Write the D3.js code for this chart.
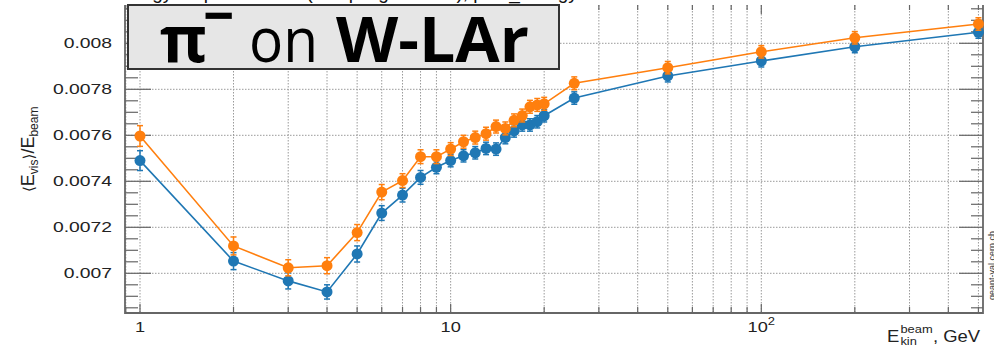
<!DOCTYPE html>
<html>
<head>
<meta charset="utf-8">
<script src="https://cdn.jsdelivr.net/npm/d3@7"></script>
<style>
  body { margin: 0; background: #fff; }
  svg { display: block; }
</style>
</head>
<body>
<svg id="chart" width="994" height="347"></svg>
<script>

var energies = [1, 2, 3, 4, 5, 6, 7, 8, 9, 10, 11, 12, 13, 14, 15, 16, 17, 18, 19, 20, 25, 50, 100, 200, 500];

var blueValues = [0.007490, 0.007053, 0.006967, 0.006919, 0.007084, 0.007262, 0.007340, 0.007417, 0.007461,
                  0.007490, 0.007511, 0.007524, 0.007543, 0.007540, 0.007590, 0.007619, 0.007645, 0.007645,
                  0.007659, 0.007685, 0.007762, 0.007858, 0.007923, 0.007985, 0.008048];
var blueErrors = [0.000043, 0.000037, 0.000035, 0.000031, 0.000035, 0.000032, 0.000030, 0.000030, 0.000028,
                  0.000027, 0.000027, 0.000027, 0.000027, 0.000027, 0.000027, 0.000027, 0.000027, 0.000027,
                  0.000027, 0.000027, 0.000027, 0.000026, 0.000026, 0.000026, 0.000026];

var orangeValues = [0.007597, 0.007119, 0.007024, 0.007033, 0.007177, 0.007353, 0.007403, 0.007507, 0.007507,
                    0.007540, 0.007572, 0.007590, 0.007607, 0.007638, 0.007630, 0.007665, 0.007686, 0.007724,
                    0.007732, 0.007737, 0.007826, 0.007894, 0.007963, 0.008024, 0.008084];
var orangeErrors = [0.000045, 0.000039, 0.000035, 0.000035, 0.000035, 0.000033, 0.000030, 0.000030, 0.000030,
                    0.000028, 0.000028, 0.000028, 0.000028, 0.000028, 0.000028, 0.000028, 0.000028, 0.000028,
                    0.000028, 0.000028, 0.000028, 0.000027, 0.000027, 0.000027, 0.000027];

var yTickValues = [0.007, 0.0072, 0.0074, 0.0076, 0.0078, 0.008];
var yTickLabels = ["0.007", "0.0072", "0.0074", "0.0076", "0.0078", "0.008"];
var xTickValues = [1, 10, 100];
var xTickLabels = [["1", ""], ["10", ""], ["10", "2"]];

var seriesColors = ["#1f77b4", "#ff7f0e"];

//:\\\ layout //:\\\

var svg = d3.select("#chart");
var frame = { left: 125, right: 983, top: 5, bottom: 313 };
var axisColor = "#666";
var labelFont = "Liberation Sans, Arial, Helvetica, sans-serif";

var x = d3.scaleLog()
    .domain([Math.pow(10, -15 / 310.65), Math.pow(10, 843 / 310.65)])
    .range([frame.left, frame.right]);

var y = d3.scaleLinear()
    .domain([0.0068274, 0.0082752])
    .range([frame.bottom, -20]);

// every decade tick 1..9, 10..90, 100..500
var logTicks = x.ticks().filter(function(d) { return d >= x.domain()[0] && d <= x.domain()[1]; });
var isMajor = function(d) { return Math.abs(Math.log10(d) - Math.round(Math.log10(d))) < 1e-9; };

// minor y ticks every 0.00005
var yMinor = d3.range(0, 40).map(function(i) { return +(0.0068 + i * 0.00005).toFixed(6); })
    .filter(function(d) { return y(d) <= frame.bottom && y(d) >= frame.top; });

// the cut title above the frame
svg.append("text")
    .attr("x", 112)
    .attr("y", -1)
    .style("font-family", labelFont)
    .style("font-size", "19px")
    .attr("fill", "#111")
    .text("Energy response of π⁻ (sampling fraction), pion_energy");

// grid
var grid = svg.append("g").attr("stroke", "#9a9a9a").attr("stroke-width", 1).attr("stroke-dasharray", "1.5,1.5");
grid.selectAll(".vgrid").data(logTicks).enter().append("line")
    .attr("x1", function(d) { return x(d); })
    .attr("x2", function(d) { return x(d); })
    .attr("y1", frame.top)
    .attr("y2", frame.bottom);
grid.selectAll(".hgrid").data(yTickValues).enter().append("line")
    .attr("x1", frame.left)
    .attr("x2", frame.right)
    .attr("y1", function(d) { return y(d); })
    .attr("y2", function(d) { return y(d); });

// axis ticks
var ticks = svg.append("g").attr("stroke", axisColor).attr("stroke-width", 1.2);
ticks.selectAll(".yl").data(yMinor).enter().append("line")
    .attr("x1", frame.left)
    .attr("x2", function(d) { return frame.left + (yTickValues.indexOf(d) >= 0 ? 26 : 13); })
    .attr("y1", function(d) { return y(d); })
    .attr("y2", function(d) { return y(d); });
ticks.selectAll(".yr").data(yMinor).enter().append("line")
    .attr("x1", frame.right)
    .attr("x2", function(d) { return frame.right - (yTickValues.indexOf(d) >= 0 ? 24 : 12); })
    .attr("y1", function(d) { return y(d); })
    .attr("y2", function(d) { return y(d); });
ticks.selectAll(".xb").data(logTicks).enter().append("line")
    .attr("x1", function(d) { return x(d); })
    .attr("x2", function(d) { return x(d); })
    .attr("y1", frame.bottom)
    .attr("y2", function(d) { return frame.bottom - (isMajor(d) ? 9 : 6); });
ticks.selectAll(".xt").data(logTicks).enter().append("line")
    .attr("x1", function(d) { return x(d); })
    .attr("x2", function(d) { return x(d); })
    .attr("y1", frame.top)
    .attr("y2", function(d) { return frame.top + (isMajor(d) ? 9 : 5); });

// frame lines
svg.append("path")
    .attr("d", "M" + frame.left + "," + frame.top + "V" + frame.bottom + "H" + frame.right + "V" + frame.top)
    .attr("fill", "none")
    .attr("stroke", axisColor)
    .attr("stroke-width", 1.8);

// y tick labels (the picture is stretched sideways)
svg.selectAll(".ylab").data(yTickValues).enter().append("text")
    .attr("transform", function(d) { return "translate(112," + (y(d) + 5) + ") scale(1.38,1)"; })
    .attr("text-anchor", "end")
    .style("font-family", labelFont)
    .style("font-size", "14px")
    .attr("fill", "#222")
    .text(function(d, i) { return yTickLabels[i]; });

// x tick labels
var xl = svg.selectAll(".xlab").data(xTickValues).enter().append("text")
    .attr("transform", function(d) { return "translate(" + x(d) + ",332) scale(1.3,1)"; })
    .attr("text-anchor", "middle")
    .style("font-family", labelFont)
    .style("font-size", "14px")
    .attr("fill", "#222");
xl.append("tspan").text(function(d, i) { return xTickLabels[i][0]; });
xl.append("tspan")
    .attr("dy", -7)
    .style("font-size", "10px")
    .text(function(d, i) { return xTickLabels[i][1]; });

// axis titles
var xt = svg.append("g").attr("transform", "translate(887,0) scale(1.12,1)")
    .style("font-family", labelFont).attr("fill", "#222");
xt.append("text").attr("x", 0).attr("y", 342).style("font-size", "16.5px").text("E");
xt.append("text").attr("x", 12).attr("y", 333).style("font-size", "11.5px").text("beam");
xt.append("text").attr("x", 12).attr("y", 345).style("font-size", "11.5px").text("kin");
xt.append("text").attr("x", 41).attr("y", 342).style("font-size", "16.5px").text(", GeV");

var yt = svg.append("text")
    .attr("transform", "translate(34,192) rotate(-90)")
    .style("font-family", labelFont)
    .style("font-size", "18px")
    .attr("fill", "#222");
yt.append("tspan").style("font-family", "DejaVu Sans, sans-serif").style("font-size", "15px").text("⟨");
yt.append("tspan").text("E");
yt.append("tspan").attr("dy", 4).style("font-size", "12px").text("vis");
yt.append("tspan").attr("dy", -4).style("font-family", "DejaVu Sans, sans-serif").style("font-size", "15px").text("⟩");
yt.append("tspan").text("/E");
yt.append("tspan").attr("dy", 4).style("font-size", "12px").text("beam");

// series: lines, error bars, markers
var series = [
  { values: blueValues, errors: blueErrors, color: seriesColors[0] },
  { values: orangeValues, errors: orangeErrors, color: seriesColors[1] }
];

var line = d3.line()
    .x(function(d) { return x(d[0]); })
    .y(function(d) { return y(d[1]); });

series.forEach(function(s) {
  var pts = energies.map(function(e, i) { return [e, s.values[i], s.errors[i]]; });
  var g = svg.append("g");

  g.append("path")
      .datum(pts)
      .attr("d", line)
      .attr("fill", "none")
      .attr("stroke", s.color)
      .attr("stroke-width", 1.6);

  var eb = g.selectAll(".err").data(pts).enter().append("g")
      .attr("stroke", s.color)
      .attr("stroke-width", 1.5);
  eb.append("line")
      .attr("x1", function(d) { return x(d[0]); })
      .attr("x2", function(d) { return x(d[0]); })
      .attr("y1", function(d) { return y(d[1] - d[2]); })
      .attr("y2", function(d) { return y(d[1] + d[2]); });
  [-1, 1].forEach(function(sign) {
    eb.append("line")
        .attr("x1", function(d) { return x(d[0]) - 3; })
        .attr("x2", function(d) { return x(d[0]) + 3; })
        .attr("y1", function(d) { return y(d[1] + sign * d[2]); })
        .attr("y2", function(d) { return y(d[1] + sign * d[2]); });
  });

  g.selectAll(".pt").data(pts).enter().append("circle")
      .attr("cx", function(d) { return x(d[0]); })
      .attr("cy", function(d) { return y(d[1]); })
      .attr("r", 5.5)
      .attr("fill", s.color);
});

// label box
svg.append("rect")
    .attr("x", 128).attr("y", 5)
    .attr("width", 431).attr("height", 64)
    .attr("fill", "#e6e6e6")
    .attr("stroke", "#333")
    .attr("stroke-width", 2);

var boxFont = "Open Sans, Noto Sans, sans-serif";
svg.append("text").attr("x", 160).attr("y", 62)
    .attr("textLength", 47).attr("lengthAdjust", "spacingAndGlyphs")
    .style("font-family", boxFont).style("font-size", "64px").style("font-weight", "bold")
    .text("π");
svg.append("text").attr("x", 203).attr("y", 36)
    .attr("textLength", 31).attr("lengthAdjust", "spacingAndGlyphs")
    .style("font-family", boxFont).style("font-size", "58px").style("font-weight", "bold")
    .text("−");
svg.append("text").attr("x", 249).attr("y", 62)
    .attr("textLength", 69).attr("lengthAdjust", "spacingAndGlyphs")
    .style("font-family", boxFont).style("font-size", "62px")
    .text("on");
svg.append("text").attr("x", 336).attr("y", 62)
    .attr("textLength", 193).attr("lengthAdjust", "spacingAndGlyphs")
    .style("font-family", boxFont).style("font-size", "62px").style("font-weight", "bold")
    .text("W-LAr");

// vertical watermark
svg.append("text")
    .attr("transform", "translate(995,300) rotate(-90)")
    .style("font-family", labelFont)
    .style("font-size", "9px")
    .attr("fill", "#333")
    .text("geant-val.cern.ch");
</script>
</body>
</html>
